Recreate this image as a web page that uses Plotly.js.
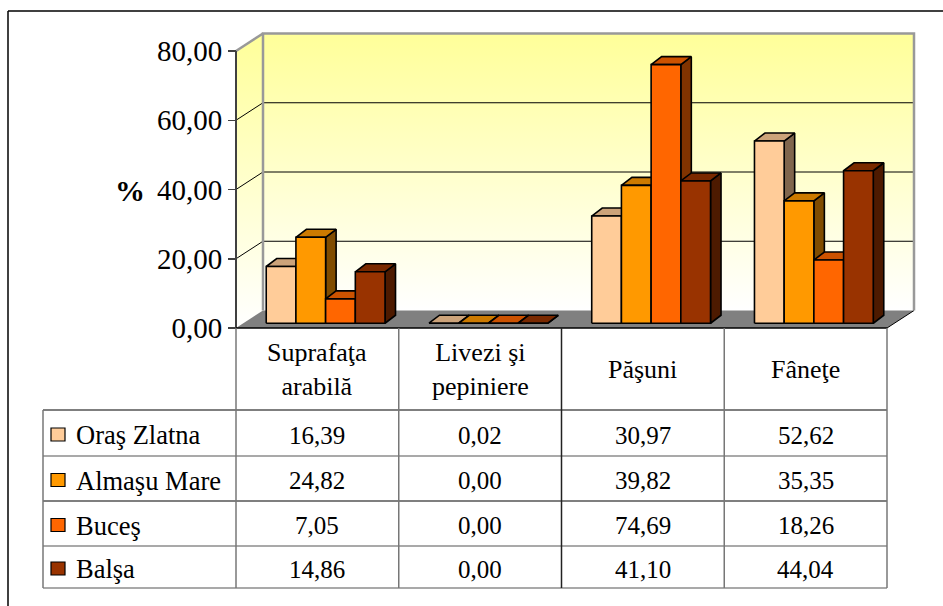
<!DOCTYPE html>
<html>
<head>
<meta charset="utf-8">
<script src="https://cdn.plot.ly/plotly-3.0.1.min.js"></script>
<style>html,body{margin:0;padding:0;background:#fff;}#chart{width:943px;height:606px;}</style>
</head>
<body>
<div id="chart"></div>
<script>
// ---- data ----
const categories = ['Suprafaţa<br>arabilă', 'Livezi şi<br>pepiniere', 'Păşuni', 'Fâneţe'];
const seriesNames = ['Oraş Zlatna', 'Almaşu Mare', 'Buceş', 'Balşa'];
const orasZlatna = [16.39, 0.02, 30.97, 52.62];
const almasuMare = [24.82, 0.00, 39.82, 35.35];
const buces = [7.05, 0.00, 74.69, 18.26];
const balsa = [14.86, 0.00, 41.10, 44.04];
const yTicks = [0, 20, 40, 60, 80];
const yAxisLabel = '%';

// ---- styles ----
const frontColors = ['#FFCC99', '#FF9900', '#FF6600', '#993300'];
const topColors = ['#CCA37A', '#CC7A00', '#CC5200', '#7A2900'];
const sideColors = ['#80664D', '#804C00', '#803300', '#4D1A00'];
const allSeries = [orasZlatna, almasuMare, buces, balsa];

const W = 943, H = 606;
const PX0 = 236;      // pixel of x = -0.5 (front plane left)
const CW = 162.75;    // pixels per category
const Y0 = 328;       // pixel of y = 0 (front)
const UY = 3.4625;    // pixels per unit
const L = 226, R = 924, T = 24, B = 336; // plot area in pixels

const DX = 27 / CW, DZ = 17.5 / UY;          // chart depth
const BW = 29.7 / CW;                         // bar width
const BDX = 10.5 / CW, BDZ = 8 / UY;          // bar depth
const SH = (DX - BDX) / 2, B0 = (DZ - BDZ) / 2;
const nCat = categories.length;
const xMin = -0.5, xMax = nCat - 0.5;
const yMax = yTicks[yTicks.length - 1];

const pxX = v => v / W;
const pxY = v => 1 - v / H;
const catPix = x => PX0 + (x + 0.5) * CW;

const traces = [];
const grad = {type: 'vertical', colorscale: [[0, '#FFFFFF'], [1, '#FFFF99']]};

// back wall
traces.push({x: [xMin + DX, xMax + DX, xMax + DX, xMin + DX, xMin + DX],
  y: [DZ, DZ, yMax + DZ, yMax + DZ, DZ], mode: 'lines', fill: 'toself',
  fillgradient: grad, line: {width: 0}, hoverinfo: 'skip'});
// left wall
traces.push({x: [xMin, xMin + DX, xMin + DX, xMin, xMin],
  y: [0, DZ, yMax + DZ, yMax, 0], mode: 'lines', fill: 'toself',
  fillgradient: grad, line: {width: 0}, hoverinfo: 'skip'});
// gridlines
{
  const gx = [], gy = [];
  yTicks.forEach(v => {
    if (v === 0 || v === yMax) return;
    gx.push(xMin + DX, xMax + DX, null, xMin, xMin + DX, null);
    gy.push(v + DZ, v + DZ, null, v, v + DZ, null);
  });
  traces.push({x: gx, y: gy, mode: 'lines', line: {color: '#000', width: 1}, hoverinfo: 'skip'});
}
// floor
traces.push({x: [xMin, xMax, xMax + DX, xMin + DX, xMin], y: [0, 0, DZ, DZ, 0],
  mode: 'lines', fill: 'toself', fillcolor: '#808080', line: {width: 0}, hoverinfo: 'skip'});
traces.push({x: [xMax, xMax + DX], y: [0, DZ], mode: 'lines', line: {color: '#000', width: 1}, hoverinfo: 'skip'});
// wall borders
traces.push({x: [xMin + DX, xMin + DX, xMax + DX, xMax + DX, null, xMin, xMin + DX],
  y: [DZ, yMax + DZ, yMax + DZ, DZ, null, yMax, yMax + DZ],
  mode: 'lines', line: {color: '#999999', width: 2.5}, hoverinfo: 'skip'});
// front axis line
traces.push({x: [xMin, xMin], y: [0, yMax], mode: 'lines', line: {color: '#404040', width: 2}, hoverinfo: 'skip'});

// bars
allSeries.forEach((vals, i) => {
  const fx = [], fy = [], tx = [], ty = [], sx = [], sy = [];
  vals.forEach((v, k) => {
    const xl = k - 2 * BW + i * BW + SH, xr = xl + BW, top = B0 + v;
    sx.push(xr, xr + BDX, xr + BDX, xr, xr, null);
    sy.push(B0, B0 + BDZ, top + BDZ, top, B0, null);
    tx.push(xl, xr, xr + BDX, xl + BDX, xl, null);
    ty.push(top, top, top + BDZ, top + BDZ, top, null);
    fx.push(xl, xr, xr, xl, xl, null);
    fy.push(B0, B0, top, top, B0, null);
  });
  const ln = {color: '#000', width: 1.6};
  traces.push({x: sx, y: sy, mode: 'lines', fill: 'toself', fillcolor: sideColors[i], line: ln, name: seriesNames[i], hoverinfo: 'skip'});
  traces.push({x: tx, y: ty, mode: 'lines', fill: 'toself', fillcolor: topColors[i], line: ln, name: seriesNames[i], hoverinfo: 'skip'});
  traces.push({x: fx, y: fy, mode: 'lines', fill: 'toself', fillcolor: frontColors[i], line: ln, name: seriesNames[i], hoverinfo: 'skip'});
});

// ---- table shapes & annotations ----
const shapes = [];
const line = (x0, y0, x1, y1, color, width) => shapes.push({type: 'line', xref: 'paper', yref: 'paper',
  x0: pxX(x0), y0: pxY(y0), x1: pxX(x1), y1: pxY(y1), line: {color: color, width: width}});
// outer frame
line(8, 11, 943, 11, '#000', 1.5);
line(8, 11, 8, 606, '#000', 1.5);

const tableLeft = 43;
const headTop = 328, headBottom = 410;
const rowLines = [410, 456, 501, 546, 588];
const tableBottom = rowLines[rowLines.length - 1];
// horizontal
line(catPix(xMin), headTop, catPix(xMax), headTop, '#000', 1.5);
rowLines.forEach((y, r) => line(tableLeft, y, catPix(xMax), y, (r % 2 === 0 && r !== 4) ? '#000' : '#555', 1.2));
// vertical
line(tableLeft, headBottom, tableLeft, tableBottom, '#777', 1.5);
for (let k = 0; k <= nCat; k++) {
  line(catPix(k - 0.5), headTop, catPix(k - 0.5), tableBottom, k === 2 ? '#222' : '#777', 1.5);
}

const annotations = [];
const serif = 'Liberation Serif, Times New Roman, serif';
// % label
annotations.push({xref: 'paper', yref: 'paper', x: pxX(130), y: pxY(190), text: '<b>' + yAxisLabel + '</b>',
  showarrow: false, xanchor: 'center', yanchor: 'middle', font: {family: serif, size: 30, color: '#000'}});
// headers
categories.forEach((c, k) => {
  annotations.push({xref: 'x', yref: 'paper', x: k, y: pxY((headTop + headBottom) / 2 + 1), text: c,
    showarrow: false, xanchor: 'center', yanchor: 'middle', font: {family: serif, size: 26, color: '#000'}});
});
// rows
allSeries.forEach((vals, i) => {
  const yc = (rowLines[i] + rowLines[i + 1]) / 2 + 2;
  shapes.push({type: 'rect', xref: 'paper', yref: 'paper', x0: pxX(51), x1: pxX(65), y0: pxY(yc - 7), y1: pxY(yc + 6),
    fillcolor: frontColors[i], line: {color: '#000', width: 1.2}});
  annotations.push({xref: 'paper', yref: 'paper', x: pxX(74), y: pxY(yc), text: seriesNames[i],
    showarrow: false, xanchor: 'left', yanchor: 'middle', font: {family: serif, size: 26.5, color: '#000'}});
  vals.forEach((v, k) => {
    annotations.push({xref: 'x', yref: 'paper', x: k, y: pxY(yc), text: v.toFixed(2).replace('.', ','),
      showarrow: false, xanchor: 'center', yanchor: 'middle', font: {family: serif, size: 25, color: '#000'}});
  });
});

const layout = {
  width: W, height: H, margin: {l: 0, r: 0, t: 0, b: 0},
  paper_bgcolor: '#fff', plot_bgcolor: 'rgba(0,0,0,0)', showlegend: false, separators: ',.',
  xaxis: {domain: [L / W, R / W], range: [xMin - (PX0 - L) / CW, xMin + (R - PX0) / CW],
    showgrid: false, zeroline: false, showticklabels: false, showline: false, ticks: '', fixedrange: true},
  yaxis: {domain: [1 - B / H, 1 - T / H], range: [-(B - Y0) / UY, (Y0 - T) / UY],
    anchor: 'free', position: PX0 / W, tickvals: yTicks, tickformat: '.2f', ticks: 'outside', ticklen: 8,
    tickwidth: 1.5, tickcolor: '#404040', showgrid: false, zeroline: false, showline: false, fixedrange: true,
    tickfont: {family: serif, size: 29, color: '#000'}},
  shapes: shapes, annotations: annotations, hovermode: false
};

Plotly.newPlot('chart', traces, layout, {staticPlot: true, displayModeBar: false});
</script>
</body>
</html>
